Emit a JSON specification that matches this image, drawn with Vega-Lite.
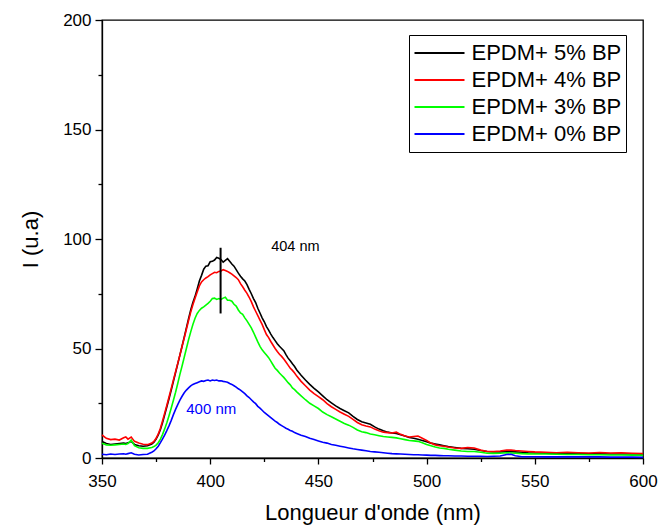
{
  "$schema": "https://vega.github.io/schema/vega-lite/v6.json",
  "width": 541,
  "height": 438,
  "autosize": "none",
  "padding": {"left": 102, "top": 20, "right": 16, "bottom": 68},
  "background": "white",
  "config": {
    "font": "Liberation Sans",
    "view": {"stroke": "black", "strokeWidth": 1.3},
    "axis": {
      "grid": false,
      "labelFont": "Liberation Sans",
      "labelFontSize": 17,
      "labelColor": "black",
      "titleFont": "Liberation Sans",
      "titleFontSize": 22,
      "titleFontWeight": "normal",
      "titleColor": "black",
      "tickColor": "black",
      "tickWidth": 1.3,
      "domainColor": "black",
      "domainWidth": 1.3
    }
  },
  "datasets": {
    "spectra": [
      {"x": 350, "k5": 7.5, "k4": 10.5, "k3": 6.7, "k0": 1.7},
      {"x": 352, "k5": 6.6, "k4": 9.0, "k3": 6.0, "k0": 1.5},
      {"x": 354, "k5": 6.2, "k4": 8.4, "k3": 5.8, "k0": 1.8},
      {"x": 356, "k5": 6.4, "k4": 8.6, "k3": 6.0, "k0": 1.6},
      {"x": 358, "k5": 6.6, "k4": 8.2, "k3": 6.2, "k0": 1.8},
      {"x": 360, "k5": 6.8, "k4": 9.2, "k3": 6.4, "k0": 1.9},
      {"x": 361, "k5": 6.6, "k4": 9.6, "k3": 6.2, "k0": 1.7},
      {"x": 362, "k5": 6.9, "k4": 8.6, "k3": 6.6, "k0": 2.0},
      {"x": 363.5, "k5": 7.6, "k4": 9.6, "k3": 8.2, "k0": 2.4},
      {"x": 365, "k5": 6.2, "k4": 7.6, "k3": 5.6, "k0": 1.7},
      {"x": 367, "k5": 5.6, "k4": 6.8, "k3": 4.7, "k0": 1.4},
      {"x": 369, "k5": 5.4, "k4": 6.3, "k3": 4.4, "k0": 1.6},
      {"x": 371, "k5": 5.6, "k4": 6.1, "k3": 4.4, "k0": 1.7},
      {"x": 373, "k5": 6.4, "k4": 6.8, "k3": 4.8, "k0": 2.6},
      {"x": 374, "k5": 7.2, "k4": 7.6, "k3": 5.2, "k0": 3.2},
      {"x": 375, "k5": 8.6, "k4": 9.0, "k3": 5.9, "k0": 4.2},
      {"x": 376, "k5": 10.5, "k4": 11.0, "k3": 7.0, "k0": 5.4},
      {"x": 377, "k5": 13.0, "k4": 13.6, "k3": 8.6, "k0": 7.0},
      {"x": 378, "k5": 16.2, "k4": 17.0, "k3": 10.8, "k0": 8.7},
      {"x": 379, "k5": 19.8, "k4": 20.6, "k3": 13.4, "k0": 10.6},
      {"x": 380, "k5": 23.5, "k4": 24.2, "k3": 16.2, "k0": 12.6},
      {"x": 381, "k5": 27.2, "k4": 28.0, "k3": 19.4, "k0": 14.8},
      {"x": 382, "k5": 31.0, "k4": 31.8, "k3": 22.8, "k0": 17.2},
      {"x": 383, "k5": 35.0, "k4": 35.6, "k3": 26.4, "k0": 19.8},
      {"x": 384, "k5": 39.0, "k4": 39.4, "k3": 30.0, "k0": 22.2},
      {"x": 385, "k5": 43.0, "k4": 43.2, "k3": 34.0, "k0": 24.4},
      {"x": 386, "k5": 47.0, "k4": 47.0, "k3": 38.2, "k0": 26.4},
      {"x": 387, "k5": 51.0, "k4": 51.0, "k3": 42.0, "k0": 28.2},
      {"x": 388, "k5": 55.2, "k4": 54.8, "k3": 46.0, "k0": 29.8},
      {"x": 389, "k5": 59.4, "k4": 58.8, "k3": 50.0, "k0": 31.0},
      {"x": 390, "k5": 63.6, "k4": 62.8, "k3": 54.0, "k0": 32.0},
      {"x": 391, "k5": 67.6, "k4": 66.6, "k3": 57.6, "k0": 32.9},
      {"x": 392, "k5": 71.0, "k4": 70.0, "k3": 61.0, "k0": 33.6},
      {"x": 393, "k5": 73.8, "k4": 73.0, "k3": 63.8, "k0": 34.0},
      {"x": 394, "k5": 77.2, "k4": 75.8, "k3": 66.0, "k0": 34.4},
      {"x": 395, "k5": 80.8, "k4": 78.6, "k3": 67.4, "k0": 34.8},
      {"x": 396, "k5": 83.4, "k4": 80.4, "k3": 68.4, "k0": 35.2},
      {"x": 397, "k5": 86.2, "k4": 81.4, "k3": 69.0, "k0": 35.0},
      {"x": 398, "k5": 87.6, "k4": 82.2, "k3": 69.8, "k0": 35.4},
      {"x": 399, "k5": 87.8, "k4": 82.8, "k3": 70.6, "k0": 35.6},
      {"x": 400, "k5": 89.6, "k4": 83.6, "k3": 71.6, "k0": 35.2},
      {"x": 401, "k5": 89.8, "k4": 84.2, "k3": 72.8, "k0": 35.6},
      {"x": 402, "k5": 90.4, "k4": 84.8, "k3": 73.0, "k0": 35.4},
      {"x": 403, "k5": 91.6, "k4": 84.6, "k3": 72.4, "k0": 35.6},
      {"x": 404, "k5": 91.2, "k4": 85.2, "k3": 72.8, "k0": 35.2},
      {"x": 405, "k5": 90.6, "k4": 85.4, "k3": 72.4, "k0": 35.3},
      {"x": 406, "k5": 89.4, "k4": 86.0, "k3": 73.0, "k0": 35.0},
      {"x": 407, "k5": 90.2, "k4": 85.6, "k3": 73.4, "k0": 34.8},
      {"x": 408, "k5": 91.0, "k4": 85.2, "k3": 72.0, "k0": 34.6},
      {"x": 409, "k5": 89.8, "k4": 84.6, "k3": 72.0, "k0": 34.0},
      {"x": 410, "k5": 88.6, "k4": 84.0, "k3": 71.6, "k0": 33.6},
      {"x": 411, "k5": 87.6, "k4": 83.2, "k3": 70.2, "k0": 33.0},
      {"x": 412, "k5": 86.0, "k4": 82.4, "k3": 69.4, "k0": 32.4},
      {"x": 413, "k5": 84.4, "k4": 81.4, "k3": 67.6, "k0": 31.6},
      {"x": 414, "k5": 83.0, "k4": 79.6, "k3": 66.2, "k0": 31.0},
      {"x": 415, "k5": 81.8, "k4": 78.2, "k3": 65.6, "k0": 30.2},
      {"x": 416, "k5": 80.8, "k4": 76.6, "k3": 64.0, "k0": 29.4},
      {"x": 417, "k5": 79.2, "k4": 75.2, "k3": 62.6, "k0": 28.4},
      {"x": 418, "k5": 77.0, "k4": 73.4, "k3": 61.0, "k0": 27.6},
      {"x": 419, "k5": 75.0, "k4": 71.4, "k3": 59.4, "k0": 26.6},
      {"x": 420, "k5": 72.8, "k4": 69.0, "k3": 57.4, "k0": 25.6},
      {"x": 421, "k5": 71.0, "k4": 67.0, "k3": 55.2, "k0": 24.8},
      {"x": 422, "k5": 68.4, "k4": 65.0, "k3": 53.0, "k0": 23.6},
      {"x": 423, "k5": 66.2, "k4": 63.0, "k3": 51.0, "k0": 22.8},
      {"x": 424, "k5": 64.0, "k4": 61.0, "k3": 49.4, "k0": 21.8},
      {"x": 425, "k5": 62.2, "k4": 58.6, "k3": 48.2, "k0": 20.8},
      {"x": 426, "k5": 60.0, "k4": 56.4, "k3": 47.0, "k0": 20.0},
      {"x": 427, "k5": 58.4, "k4": 55.0, "k3": 45.8, "k0": 19.2},
      {"x": 428, "k5": 56.6, "k4": 53.2, "k3": 44.2, "k0": 18.4},
      {"x": 429, "k5": 55.0, "k4": 51.6, "k3": 42.6, "k0": 17.6},
      {"x": 430, "k5": 53.6, "k4": 50.0, "k3": 41.0, "k0": 16.8},
      {"x": 431, "k5": 52.2, "k4": 48.6, "k3": 40.0, "k0": 16.2},
      {"x": 432, "k5": 51.0, "k4": 47.4, "k3": 38.8, "k0": 15.4},
      {"x": 433, "k5": 50.0, "k4": 46.4, "k3": 37.8, "k0": 14.8},
      {"x": 434, "k5": 49.0, "k4": 45.2, "k3": 36.8, "k0": 14.2},
      {"x": 435, "k5": 47.2, "k4": 43.8, "k3": 35.6, "k0": 13.6},
      {"x": 436, "k5": 45.6, "k4": 42.4, "k3": 34.4, "k0": 13.1},
      {"x": 437, "k5": 44.4, "k4": 41.0, "k3": 33.4, "k0": 12.6},
      {"x": 438, "k5": 43.0, "k4": 40.0, "k3": 32.0, "k0": 12.2},
      {"x": 439, "k5": 41.8, "k4": 38.8, "k3": 31.2, "k0": 11.6},
      {"x": 440, "k5": 40.2, "k4": 37.4, "k3": 30.2, "k0": 11.2},
      {"x": 442, "k5": 37.8, "k4": 35.0, "k3": 28.4, "k0": 10.4},
      {"x": 444, "k5": 35.6, "k4": 33.0, "k3": 26.6, "k0": 9.8},
      {"x": 446, "k5": 33.6, "k4": 31.0, "k3": 25.0, "k0": 9.0},
      {"x": 448, "k5": 31.8, "k4": 29.4, "k3": 23.8, "k0": 8.4},
      {"x": 450, "k5": 30.2, "k4": 28.0, "k3": 22.6, "k0": 7.8},
      {"x": 452, "k5": 28.4, "k4": 26.6, "k3": 21.0, "k0": 7.2},
      {"x": 454, "k5": 26.6, "k4": 24.8, "k3": 19.8, "k0": 6.8},
      {"x": 456, "k5": 25.2, "k4": 23.4, "k3": 18.8, "k0": 6.2},
      {"x": 458, "k5": 23.8, "k4": 22.2, "k3": 17.8, "k0": 5.8},
      {"x": 460, "k5": 22.6, "k4": 21.0, "k3": 16.8, "k0": 5.4},
      {"x": 462, "k5": 21.6, "k4": 20.0, "k3": 15.8, "k0": 5.0},
      {"x": 464, "k5": 20.6, "k4": 19.0, "k3": 15.0, "k0": 4.6},
      {"x": 466, "k5": 19.0, "k4": 17.6, "k3": 14.0, "k0": 4.2},
      {"x": 468, "k5": 17.6, "k4": 16.2, "k3": 12.8, "k0": 3.9},
      {"x": 470, "k5": 16.6, "k4": 15.2, "k3": 12.0, "k0": 3.6},
      {"x": 472, "k5": 16.0, "k4": 14.6, "k3": 11.6, "k0": 3.3},
      {"x": 474, "k5": 15.4, "k4": 14.2, "k3": 11.0, "k0": 3.0},
      {"x": 476, "k5": 14.2, "k4": 13.2, "k3": 10.6, "k0": 2.8},
      {"x": 478, "k5": 13.2, "k4": 12.4, "k3": 10.2, "k0": 2.6},
      {"x": 480, "k5": 12.4, "k4": 11.8, "k3": 9.8, "k0": 2.4},
      {"x": 482, "k5": 11.8, "k4": 11.6, "k3": 9.6, "k0": 2.2},
      {"x": 484, "k5": 11.4, "k4": 11.4, "k3": 9.4, "k0": 2.0},
      {"x": 486, "k5": 11.2, "k4": 11.8, "k3": 9.2, "k0": 1.9},
      {"x": 488, "k5": 10.6, "k4": 10.8, "k3": 8.8, "k0": 1.8},
      {"x": 490, "k5": 10.0, "k4": 10.0, "k3": 8.4, "k0": 1.7},
      {"x": 492, "k5": 9.4, "k4": 9.6, "k3": 8.0, "k0": 1.6},
      {"x": 494, "k5": 9.0, "k4": 9.8, "k3": 7.8, "k0": 1.5},
      {"x": 496, "k5": 8.6, "k4": 10.0, "k3": 7.6, "k0": 1.5},
      {"x": 498, "k5": 8.0, "k4": 9.0, "k3": 7.0, "k0": 1.4},
      {"x": 500, "k5": 7.4, "k4": 8.0, "k3": 6.2, "k0": 1.3},
      {"x": 502, "k5": 6.8, "k4": 6.8, "k3": 5.6, "k0": 1.2},
      {"x": 504, "k5": 6.4, "k4": 6.0, "k3": 5.0, "k0": 1.2},
      {"x": 506, "k5": 6.0, "k4": 5.6, "k3": 4.6, "k0": 1.1},
      {"x": 508, "k5": 5.6, "k4": 5.4, "k3": 4.4, "k0": 1.0},
      {"x": 510, "k5": 5.2, "k4": 5.0, "k3": 4.0, "k0": 1.0},
      {"x": 513, "k5": 4.8, "k4": 4.6, "k3": 3.6, "k0": 0.9},
      {"x": 516, "k5": 4.4, "k4": 4.4, "k3": 3.2, "k0": 0.9},
      {"x": 519, "k5": 4.2, "k4": 4.8, "k3": 3.0, "k0": 0.8},
      {"x": 522, "k5": 4.0, "k4": 4.6, "k3": 3.0, "k0": 0.8},
      {"x": 525, "k5": 3.4, "k4": 3.6, "k3": 2.6, "k0": 0.8},
      {"x": 528, "k5": 3.0, "k4": 3.0, "k3": 2.2, "k0": 0.7},
      {"x": 531, "k5": 2.8, "k4": 2.9, "k3": 2.1, "k0": 0.8},
      {"x": 534, "k5": 2.8, "k4": 3.2, "k3": 2.2, "k0": 0.9},
      {"x": 537, "k5": 2.9, "k4": 3.6, "k3": 2.4, "k0": 1.6},
      {"x": 539, "k5": 2.9, "k4": 3.6, "k3": 2.3, "k0": 1.7},
      {"x": 541, "k5": 2.8, "k4": 3.4, "k3": 2.2, "k0": 1.0},
      {"x": 544, "k5": 2.6, "k4": 3.2, "k3": 2.0, "k0": 0.6},
      {"x": 547, "k5": 2.4, "k4": 3.0, "k3": 1.9, "k0": 0.6},
      {"x": 550, "k5": 2.3, "k4": 2.8, "k3": 1.8, "k0": 0.6},
      {"x": 555, "k5": 2.2, "k4": 2.6, "k3": 1.8, "k0": 0.5},
      {"x": 560, "k5": 2.1, "k4": 2.4, "k3": 1.7, "k0": 0.5},
      {"x": 565, "k5": 2.0, "k4": 2.6, "k3": 1.6, "k0": 0.5},
      {"x": 570, "k5": 2.0, "k4": 2.4, "k3": 1.6, "k0": 0.5},
      {"x": 575, "k5": 1.9, "k4": 2.3, "k3": 1.5, "k0": 0.5},
      {"x": 580, "k5": 1.9, "k4": 2.5, "k3": 1.5, "k0": 0.5},
      {"x": 585, "k5": 1.8, "k4": 2.3, "k3": 1.4, "k0": 0.4},
      {"x": 590, "k5": 1.8, "k4": 2.4, "k3": 1.4, "k0": 0.4},
      {"x": 595, "k5": 1.8, "k4": 2.2, "k3": 1.3, "k0": 0.4},
      {"x": 600, "k5": 1.8, "k4": 2.0, "k3": 1.2, "k0": 0.3}
    ],
    "marker": [{"x": 404.8, "y": 66, "y2": 96}],
    "label404": [{"x": 428.2, "y": 96.3, "t": "404 nm"}],
    "label400": [{"x": 400.5, "y": 22.5, "t": "400 nm"}]
  },
  "layer": [
    {
      "data": {"name": "spectra"},
      "transform": [{"fold": ["k5", "k4", "k3", "k0"], "as": ["s", "y"]}],
      "mark": {"type": "line", "strokeWidth": 1.6},
      "encoding": {
        "x": {
          "field": "x",
          "type": "quantitative",
          "scale": {"domain": [350, 600], "nice": false, "zero": false},
          "axis": {
            "values": [350, 400, 450, 500, 550, 600],
            "title": "Longueur d'onde (nm)",
            "tickSize": 6,
            "labelPadding": 9,
            "titlePadding": 13,
            "labelFlush": false,
            "labelOverlap": false
          }
        },
        "y": {
          "field": "y",
          "type": "quantitative",
          "scale": {"domain": [0, 200], "nice": false},
          "axis": {
            "values": [0, 50, 100, 150, 200],
            "title": "I (u.a)",
            "tickSize": 7,
            "labelPadding": 4,
            "titlePadding": 20,
            "labelFlush": false,
            "labelOverlap": false
          }
        },
        "color": {
          "field": "s",
          "type": "nominal",
          "scale": {
            "domain": ["k5", "k4", "k3", "k0"],
            "range": ["#000000", "#ff0000", "#00ff00", "#0000ff"]
          },
          "legend": {
            "orient": "none",
            "legendX": 307,
            "legendY": 15,
            "title": null,
            "symbolType": "stroke",
            "symbolSize": 2500,
            "symbolStrokeWidth": 2,
            "labelFont": "Liberation Sans",
            "labelFontSize": 22,
            "labelColor": "black",
            "labelOffset": 6,
            "labelLimit": 240,
            "strokeColor": "black",
            "fillColor": "white",
            "padding": 4.5,
            "rowPadding": 0,
            "clipHeight": 27,
            "labelExpr": "{'k5': 'EPDM+ 5% BP\u00a0\u00a0', 'k4': 'EPDM+ 4% BP\u00a0\u00a0', 'k3': 'EPDM+ 3% BP\u00a0\u00a0', 'k0': 'EPDM+ 0% BP\u00a0\u00a0'}[datum.value]"
          }
        }
      }
    },
    {
      "data": {"name": "marker"},
      "mark": {"type": "rule", "color": "black", "strokeWidth": 2},
      "encoding": {
        "x": {
          "field": "x",
          "type": "quantitative",
          "axis": {
            "orient": "bottom",
            "values": [375, 425, 475, 525, 575],
            "labels": false,
            "domain": false,
            "tickSize": 3.5,
            "title": null
          }
        },
        "y": {
          "field": "y",
          "type": "quantitative",
          "axis": {
            "orient": "left",
            "values": [25, 75, 125, 175],
            "labels": false,
            "domain": false,
            "tickSize": 4,
            "title": null
          }
        },
        "y2": {"field": "y2"}
      }
    },
    {
      "data": {"name": "label404"},
      "mark": {"type": "text", "color": "black", "fontSize": 14.5, "align": "left", "baseline": "middle", "font": "Liberation Sans"},
      "encoding": {
        "x": {"field": "x", "type": "quantitative", "axis": null},
        "y": {"field": "y", "type": "quantitative", "axis": null},
        "text": {"field": "t"}
      }
    },
    {
      "data": {"name": "label400"},
      "mark": {"type": "text", "color": "#0000ff", "fontSize": 15, "align": "center", "baseline": "middle", "font": "Liberation Sans"},
      "encoding": {
        "x": {"field": "x", "type": "quantitative", "axis": null},
        "y": {"field": "y", "type": "quantitative", "axis": null},
        "text": {"field": "t"}
      }
    }
  ],
  "resolve": {"axis": {"x": "independent", "y": "independent"}}
}
